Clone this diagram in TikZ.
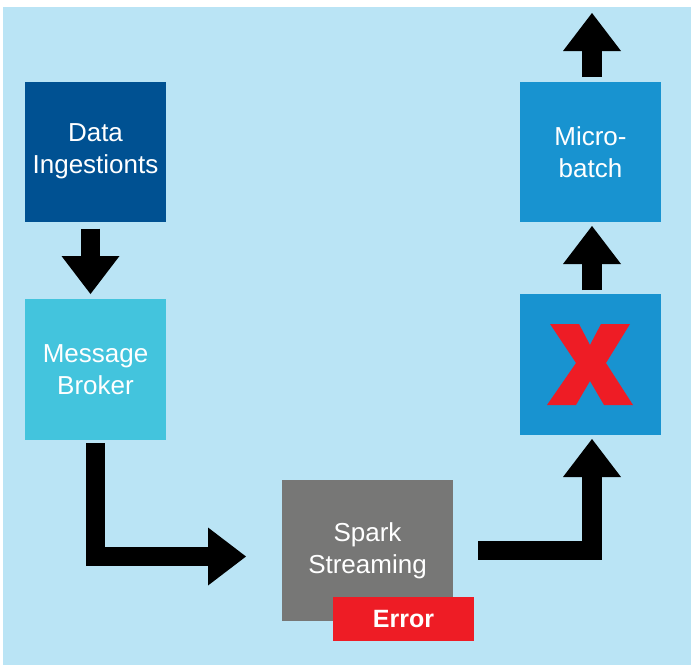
\documentclass[tikz,border=0pt]{standalone}
\usepackage{fontspec}
\setmainfont{Liberation Sans}
\usetikzlibrary{arrows.meta}
\definecolor{bgblue}{HTML}{BAE4F5}
\definecolor{darkblue}{HTML}{005192}
\definecolor{cyanbox}{HTML}{43C4DD}
\definecolor{midblue}{HTML}{1893D0}
\definecolor{sparkgray}{HTML}{777776}
\definecolor{errred}{HTML}{EE1C25}
\tikzset{
  box/.style={inner sep=0pt, outer sep=0pt, minimum width=141pt, minimum height=140pt,
    text=white, align=center, font=\fontsize{26}{32}\selectfont},
  blk/.style={draw=black, line width=19.5pt,
    -{Triangle[length=38pt, width=58pt, line width=0pt]}},
}
\begin{document}
\begin{tikzpicture}[x=1pt, y=-1pt]
\useasboundingbox (0,0) rectangle (691,665);
\fill[bgblue] (3,7) rectangle (691,665);

\node[box, fill=darkblue] (di) at (95.5,151.5) {Data\\Ingestionts};
\node[box, fill=cyanbox, minimum height=141pt] (mb) at (95.5,369.5) {Message\\Broker};
\node[box, fill=sparkgray, minimum width=171pt, minimum height=141pt] (sp) at (367.5,550.5) {Spark\\Streaming};
\node[box, fill=errred, minimum height=44pt, font=\fontsize{25}{32}\selectfont\bfseries] (er) at (403.5,619) {Error};
\node[box, fill=midblue, minimum height=141pt] (xb) at (590.5,364.5) {};
\node[box, fill=midblue] (mi) at (590.5,152) {Micro-\\batch};

\fill[errred] (550,324) -- (579,324) -- (590,345) -- (601,324) -- (630,324) -- (606,363)
  -- (633,405) -- (604,405) -- (590,381) -- (576,405) -- (547,405) -- (576,363) -- cycle;

\coordinate (out) at (592,13);

\draw[blk, shorten <=7pt, shorten >=5pt] ([xshift=-5pt]di.south) -- ([xshift=-5pt]mb.north);
\draw[blk, shorten <=3pt, shorten >=36pt] (mb.south) |- ([yshift=-6pt]sp.west);
\draw[blk, shorten <=25pt, shorten >=4pt] (sp.east) -| ([xshift=1.5pt]xb.south);
\draw[blk, shorten <=4pt, shorten >=4pt] ([xshift=1.5pt]xb.north) -- ([xshift=1.5pt]mi.south);
\draw[blk, shorten <=5pt] ([xshift=1.5pt]mi.north) -- (out);
\end{tikzpicture}
\end{document}
